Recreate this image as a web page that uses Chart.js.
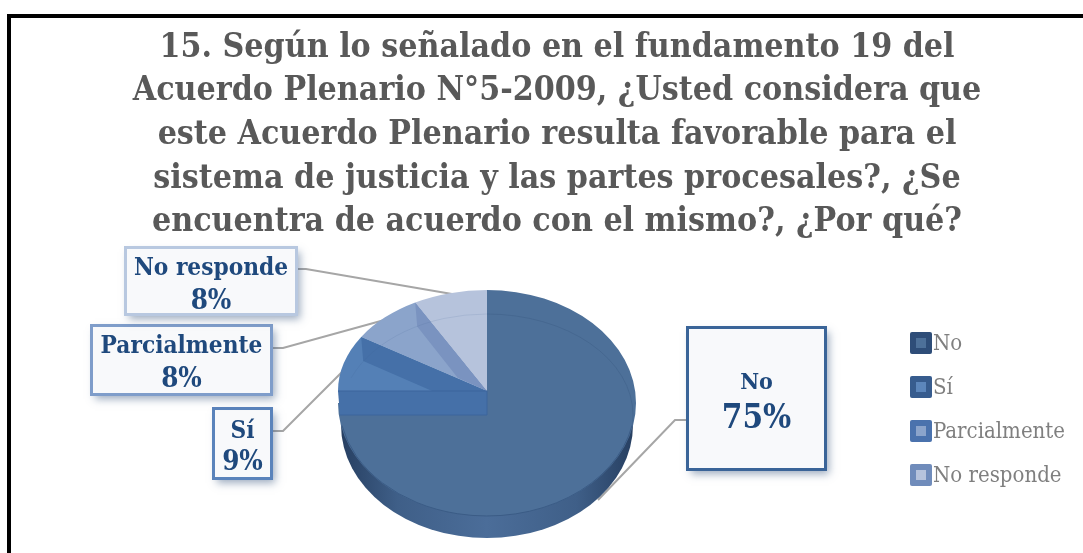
<!DOCTYPE html>
<html><head><meta charset="utf-8">
<style>html,body{margin:0;padding:0;background:#fff;overflow:hidden}canvas{display:block}</style>
<script src="https://cdn.jsdelivr.net/npm/chart.js@4/dist/chart.umd.min.js"></script>
</head><body><canvas id="c" width="1083" height="553"></canvas>
<script>
const categories = ['No', 'Sí', 'Parcialmente', 'No responde'];
const values = [75, 9, 8, 8];
const titleLines = ['15. Según lo señalado en el fundamento 19 del','Acuerdo Plenario N°5-2009, ¿Usted considera que','este Acuerdo Plenario resulta favorable para el','sistema de justicia y las partes procesales?, ¿Se','encuentra de acuerdo con el mismo?, ¿Por qué?'];
const sliceColors = ['#4d7099','#5480b6','#8ba4cb','#b6c3dc'];
const legendOuter = ['#2e4d78','#375c8e','#4a72ad','#708cbb'];
const legendInner = ['#4d7099','#5c86bb','#8ba4cb','#b6c3dc'];
const SERIF = '"DejaVu Serif Condensed","DejaVu Serif",serif';
// label callout layout: box [x,y,w,h], leader polyline, border colour, font sizes
const callouts = [
 {box:[687.5,327.5,138,142], leader:[[687,420],[675,420],[598,500]], border:'#3a6498', sizes:[23,33], tops:[383,419]},
 {box:[213.5,408.5,58,70], leader:[[272,431],[283,431],[348,366]], border:'#5a83bb', sizes:[24.2,27.5], tops:[432,463]},
 {box:[91.5,325.5,180,69], leader:[[272,348],[283,348],[388,319]], border:'#7f9dca', sizes:[24.2,27.5], tops:[347,380]},
 {box:[125.5,247.5,171,67], leader:[[297,269],[306,269],[452,294]], border:'#b8c8e0', sizes:[24.2,27.5], tops:[269,302]}
];
const PIE = {cx:487, cyTop:391, cyNo:403, rx:149, ryTop:101, ryNo:113, depth:22, wall:24};

function useEllipse(ctx, el, cy, ry, rx){
  const r = el.outerRadius;
  ctx.translate(PIE.cx, cy);
  ctx.scale((rx||PIE.rx)/r, ry/r);
  ctx.translate(-el.x, -el.y);
}
function outerPoint(el, angle){
  const dx = Math.cos(angle), dy = Math.sin(angle);
  return [PIE.cx + PIE.rx*dx, PIE.cyTop + PIE.ryTop*dy];
}
function poly(ctx, pts, fill){
  ctx.beginPath(); pts.forEach((p,i)=> i?ctx.lineTo(p[0],p[1]):ctx.moveTo(p[0],p[1])); ctx.closePath();
  ctx.fillStyle = fill; ctx.fill();
}
const pie3d = {
  id:'pie3d',
  beforeDraw(chart){
    const ctx = chart.ctx;
    ctx.save();
    ctx.fillStyle='#fff'; ctx.fillRect(0,0,chart.width,chart.height);
    ctx.fillStyle='#000'; ctx.fillRect(7,14,chart.width,4); ctx.fillRect(7,14,4,chart.height);
    ctx.restore();
    // leaders go under the pie
    ctx.save(); ctx.strokeStyle='#a6a6a6'; ctx.lineWidth=2;
    callouts.forEach(c=>{ctx.beginPath(); c.leader.forEach((p,i)=>i?ctx.lineTo(p[0],p[1]):ctx.moveTo(p[0],p[1])); ctx.stroke();});
    ctx.restore();
  },
  beforeDatasetsDraw(chart){
    const ctx = chart.ctx, meta = chart.getDatasetMeta(0), els = meta.data, no = els[0];
    // side wall
    ctx.save();
    const g = ctx.createLinearGradient(PIE.cx-PIE.rx,0,PIE.cx+PIE.rx,0);
    g.addColorStop(0,'#263e60'); g.addColorStop(.2,'#3f5f88'); g.addColorStop(.5,'#4b6d99'); g.addColorStop(.8,'#3f5f88'); g.addColorStop(1,'#263e60');
    ctx.beginPath(); ctx.ellipse(PIE.cx, PIE.cyNo+PIE.depth, PIE.rx-3, PIE.ryNo, 0, 0, Math.PI); ctx.closePath();
    ctx.fillStyle=g; ctx.fill();
    ctx.restore();
    // No slice surface
    ctx.save(); useEllipse(ctx,no,PIE.cyNo,PIE.ryNo); no.draw(ctx); ctx.restore();
    // rim between top surface and wall
    ctx.save(); ctx.strokeStyle='#3b5c86'; ctx.lineWidth=1;
    ctx.beginPath(); ctx.ellipse(PIE.cx,PIE.cyNo,PIE.rx-1,PIE.ryNo,0,0.2,Math.PI-0.2); ctx.stroke(); ctx.restore();
    // other slices on top, apex higher up
    for(let i=1;i<els.length;i++){ ctx.save(); useEllipse(ctx,els[i],PIE.cyTop,PIE.ryTop); els[i].draw(ctx); ctx.restore(); }
    // inner faces between slices
    const apex=[PIE.cx,PIE.cyTop], t=.58;
    const wallFor=(i,col)=>{
      const a=outerPoint(els[i],els[i].startAngle), b=[a[0]+2,a[1]+PIE.wall], ap=[apex[0],apex[1]+PIE.wall];
      poly(ctx,[apex,a,b,[b[0]+t*(ap[0]-b[0]),b[1]+t*(ap[1]-b[1])]],col);
    };
    wallFor(2,'#4570a8'); wallFor(3,'#7a93c0');
    // left front face (Sí start)
    poly(ctx,[[PIE.cx-PIE.rx,PIE.cyTop],apex,[PIE.cx,PIE.cyTop+PIE.wall],[PIE.cx-PIE.rx+2,PIE.cyTop+PIE.wall]],'#4570a8');
    ctx.save(); ctx.strokeStyle='#3c659c'; ctx.lineWidth=1;
    ctx.beginPath(); ctx.moveTo(PIE.cx-PIE.rx,PIE.cyTop); ctx.lineTo(PIE.cx,PIE.cyTop); ctx.lineTo(PIE.cx,PIE.cyTop+PIE.wall); ctx.lineTo(PIE.cx-PIE.rx+2,PIE.cyTop+PIE.wall); ctx.stroke();
    // faint bevel arc
    ctx.strokeStyle='rgba(40,70,110,.2)';
    ctx.beginPath(); ctx.ellipse(PIE.cx,PIE.cyTop+PIE.wall,PIE.rx-3,PIE.ryTop,0,-Math.PI/2,0.1); ctx.stroke();
    ctx.strokeStyle='rgba(60,90,140,.12)';
    ctx.beginPath(); ctx.ellipse(PIE.cx,PIE.cyTop+PIE.wall,PIE.rx-3,PIE.ryTop,0,Math.PI*1.12,Math.PI*1.5); ctx.stroke();
    ctx.restore();
    return false; // datasets already painted through their elements
  },
  afterDraw(chart){
    const ctx = chart.ctx;
    // legend swatches
    chart.legend.legendHitBoxes.forEach((h,i)=>{
      const y = h.top + h.height/2 - 12, x = 910;
      ctx.save();
      ctx.fillStyle=legendOuter[i]; ctx.beginPath(); ctx.roundRect(x,y,22,22,2); ctx.fill();
      ctx.fillStyle=legendInner[i]; ctx.fillRect(x+6,y+6,10,10);
      ctx.restore();
    });
    // callouts
    callouts.forEach((c,i)=>{
      const [x,y,w,h]=c.box;
      ctx.save();
      ctx.shadowColor='rgba(60,90,130,.5)'; ctx.shadowBlur=8; ctx.shadowOffsetX=3; ctx.shadowOffsetY=4;
      ctx.fillStyle='#f8f9fb'; ctx.fillRect(x,y,w,h);
      ctx.restore();
      ctx.save();
      ctx.strokeStyle=c.border; ctx.lineWidth=3; ctx.strokeRect(x,y,w,h);
      ctx.fillStyle='#1f497d'; ctx.textAlign='center'; ctx.textBaseline='middle';
      ctx.font=`bold ${c.sizes[0]}px ${SERIF}`; ctx.fillText(categories[i], x+w/2, c.tops[0]);
      ctx.font=`bold ${c.sizes[1]}px ${SERIF}`; ctx.fillText(values[i]+'%', x+w/2, c.tops[1]);
      ctx.restore();
    });
  }
};
new Chart(document.getElementById('c'),{
  type:'pie',
  data:{labels:categories,datasets:[{data:values,backgroundColor:sliceColors,borderWidth:0}]},
  plugins:[pie3d],
  options:{
    responsive:false,animation:false,rotation:0,
    layout:{padding:{left:39,right:8,top:0,bottom:44}},
    plugins:{
      tooltip:{enabled:false},
      title:{display:true,text:titleLines,color:'#595959',font:{family:SERIF,size:33.6,weight:'bold',lineHeight:1.3},padding:{top:26,bottom:0}},
      legend:{display:true,position:'right',align:'end',
        labels:{boxWidth:12,boxHeight:12,padding:22,color:'rgba(127,127,127,1)',font:{family:SERIF,size:22},
          generateLabels(chart){return categories.map((t,i)=>({text:t,fillStyle:'transparent',strokeStyle:'transparent',lineWidth:0,index:i,fontColor:'#7f7f7f'}));}}
      }
    }
  }
});
</script></body></html>
